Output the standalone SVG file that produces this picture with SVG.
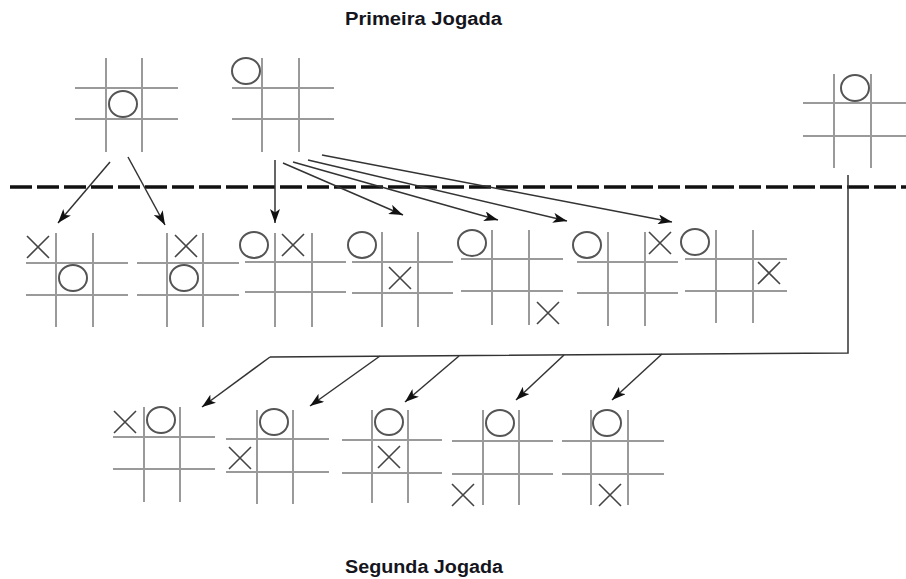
<svg xmlns="http://www.w3.org/2000/svg" xmlns:xlink="http://www.w3.org/1999/xlink" width="906" height="579" viewBox="0 0 906 579">
  <style>
    .grid { fill: none; stroke: #9a9a9a; stroke-width: 2; }
    .o { fill: none; stroke: #555; stroke-width: 2; }
    .x { fill: none; stroke: #444; stroke-width: 1.6; }
    .arrow { fill: none; stroke: #333; stroke-width: 1.5; marker-end: url(#head); }
    .link { fill: none; stroke: #333; stroke-width: 1.5; }
    .divider { fill: none; stroke: #111; stroke-width: 3.5; stroke-dasharray: 22 5; }
    .title { font-family: "Liberation Sans", Arial, sans-serif; font-weight: bold; font-size: 18px; fill: #151520; }
  </style>
  <defs>
    <marker id="head" viewBox="0 0 14 10" refX="14" refY="5" markerWidth="14" markerHeight="10" markerUnits="userSpaceOnUse" orient="auto">
      <path d="M0,0 L14,5 L0,10 L3.5,5 Z" fill="#111"/>
    </marker>
    <ellipse id="om" cx="0" cy="0" rx="14" ry="13" class="o"/>
    <path id="xm" d="M-11,-11 L11,11 M11,-11 L-11,11" class="x"/>
  </defs>

  <rect width="906" height="579" fill="#fff"/>

  <text class="title" x="345" y="25" textLength="157" lengthAdjust="spacingAndGlyphs">Primeira Jogada</text>
  <text class="title" x="345" y="573" textLength="158" lengthAdjust="spacingAndGlyphs">Segunda Jogada</text>

  <!-- first move boards -->
  <g id="board-center">
    <path class="grid" d="M106,58V152 M142,58V152 M75,88H178 M75,119H178"/>
    <use xlink:href="#om" x="123" y="104"/>
  </g>
  <g id="board-corner">
    <path class="grid" d="M262,58V152 M299,58V152 M232,88H334 M232,119H334"/>
    <use xlink:href="#om" x="246" y="71"/>
  </g>
  <g id="board-edge">
    <path class="grid" d="M834,74V168 M871,74V168 M803,103H906 M803,136H906"/>
    <use xlink:href="#om" x="855" y="88"/>
  </g>

  <!-- replies to the first move -->
  <g id="reply-a">
    <path class="grid" d="M56,233V327 M93,233V327 M26,263H128 M26,295H128"/>
    <use xlink:href="#xm" x="38" y="247"/>
    <use xlink:href="#om" x="73" y="278"/>
  </g>
  <g id="reply-b">
    <path class="grid" d="M167,233V327 M203,233V327 M137,263H239 M137,295H239"/>
    <use xlink:href="#xm" x="186" y="246"/>
    <use xlink:href="#om" x="184" y="278"/>
  </g>
  <g id="reply-c">
    <path class="grid" d="M275,233V327 M312,233V327 M245,262H346 M245,292H346"/>
    <use xlink:href="#om" x="254" y="245"/>
    <use xlink:href="#xm" x="293" y="245"/>
  </g>
  <g id="reply-d">
    <path class="grid" d="M382,232V327 M418,232V327 M352,262H453 M352,293H453"/>
    <use xlink:href="#om" x="362" y="245"/>
    <use xlink:href="#xm" x="400" y="278"/>
  </g>
  <g id="reply-e">
    <path class="grid" d="M492,230V325 M529,230V325 M461,259H563 M461,291H563"/>
    <use xlink:href="#om" x="472" y="243"/>
    <use xlink:href="#xm" x="548" y="313"/>
  </g>
  <g id="reply-f">
    <path class="grid" d="M608,232V326 M645,232V326 M577,262H678 M577,293H678"/>
    <use xlink:href="#om" x="587" y="245"/>
    <use xlink:href="#xm" x="660" y="243"/>
  </g>
  <g id="reply-g">
    <path class="grid" d="M716,230V323 M753,230V323 M685,259H787 M685,291H787"/>
    <use xlink:href="#om" x="695" y="242"/>
    <use xlink:href="#xm" x="769" y="273"/>
  </g>

  <!-- replies to the edge move -->
  <g id="reply-h">
    <path class="grid" d="M144,407V502 M180,407V502 M113,437H215 M113,469H215"/>
    <use xlink:href="#xm" x="125" y="422"/>
    <use xlink:href="#om" x="161" y="420"/>
  </g>
  <g id="reply-i">
    <path class="grid" d="M257,410V504 M293,410V504 M226,439H329 M226,472H329"/>
    <use xlink:href="#om" x="274" y="422"/>
    <use xlink:href="#xm" x="240" y="458"/>
  </g>
  <g id="reply-j">
    <path class="grid" d="M372,410V503 M408,410V503 M342,440H442 M342,473H442"/>
    <use xlink:href="#om" x="389" y="422"/>
    <use xlink:href="#xm" x="389" y="457"/>
  </g>
  <g id="reply-k">
    <path class="grid" d="M483,410V505 M519,410V505 M452,441H553 M452,474H553"/>
    <use xlink:href="#om" x="500" y="423"/>
    <use xlink:href="#xm" x="463" y="495"/>
  </g>
  <g id="reply-l">
    <path class="grid" d="M591,410V505 M628,410V505 M562,441H664 M562,474H664"/>
    <use xlink:href="#om" x="607" y="423"/>
    <use xlink:href="#xm" x="610" y="495"/>
  </g>

  <g id="connectors">
    <path class="divider" d="M10,187H906"/>
    <path class="arrow" d="M110,162L58,223"/>
    <path class="arrow" d="M128,157L165,225"/>
    <path class="arrow" d="M275,160V223"/>
    <path class="arrow" d="M283,163L403,215"/>
    <path class="arrow" d="M293,162L498,220"/>
    <path class="arrow" d="M308,160L567,221"/>
    <path class="arrow" d="M322,155L672,222"/>
    <path class="link" d="M848,175V353L270,357"/>
    <path class="arrow" d="M270,357L202,407"/>
    <path class="arrow" d="M380,356L310,406"/>
    <path class="arrow" d="M459,356L405,402"/>
    <path class="arrow" d="M564,355L516,400"/>
    <path class="arrow" d="M662,354L612,400"/>
  </g>
</svg>
